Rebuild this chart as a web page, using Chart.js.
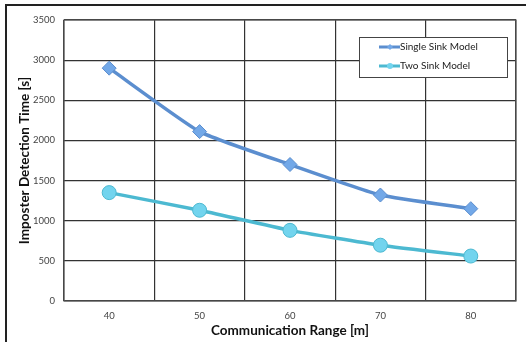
<!DOCTYPE html>
<html><head><meta charset="utf-8">
<script src="https://cdn.jsdelivr.net/npm/chart.js@4/dist/chart.umd.min.js"></script>
<style>html,body{margin:0;padding:0;background:#fff}#wrap{width:526px;height:342px;position:relative}</style>
</head><body><div id="wrap"><canvas id="c" width="526" height="342"></canvas></div>
<script>
const categories = ['40', '50', '60', '70', '80'];
const singleSink = [2900, 2110, 1700, 1320, 1150];
const twoSink = [1350, 1130, 880, 695, 560];
const yTicks = [0, 500, 1000, 1500, 2000, 2500, 3000, 3500];
const seriesNames = ['Single Sink Model', 'Two Sink Model'];
const xTitle = 'Communication Range [m]';
const yTitle = 'Imposter Detection Time [s]';
const FONT = 'Lato, "Open Sans", sans-serif';

const frame = {
  id: 'frame',
  beforeDraw(chart) {
    const ctx = chart.ctx;
    ctx.save();
    ctx.fillStyle = '#fff';
    ctx.fillRect(0, 0, chart.width, chart.height);
    ctx.strokeStyle = '#222';
    ctx.lineWidth = 2;
    ctx.beginPath();
    ctx.moveTo(6, chart.height + 5);
    ctx.lineTo(6, 5);
    ctx.lineTo(chart.width + 5, 5);
    ctx.stroke();
    ctx.restore();
  },
  afterDatasetsDraw(chart) {
    const ctx = chart.ctx;
    const a = chart.chartArea;
    ctx.save();
    ctx.strokeStyle = '#555';
    ctx.lineWidth = 1.2;
    ctx.strokeRect(a.left, a.top, a.right - a.left, a.bottom - a.top);
    // axis titles
    ctx.fillStyle = '#111';
    ctx.font = 'bold 13.5px ' + FONT;
    ctx.textAlign = 'center';
    ctx.textBaseline = 'middle';
    ctx.fillText(xTitle, (a.left + a.right) / 2, 331);
    ctx.save();
    ctx.translate(25, (a.top + a.bottom) / 2);
    ctx.rotate(-Math.PI / 2);
    ctx.fillText(yTitle, 0, 0);
    ctx.restore();
    // legend
    const lx = 359, ly = 37, lw = 148, lh = 40;
    ctx.fillStyle = '#fff';
    ctx.fillRect(lx, ly, lw, lh);
    ctx.strokeStyle = '#444';
    ctx.lineWidth = 1;
    ctx.strokeRect(lx + 0.5, ly + 0.5, lw, lh);
    chart.data.datasets.forEach((ds, i) => {
      const y = ly + 10 + i * 19;
      ctx.strokeStyle = ds.borderColor;
      ctx.lineWidth = 3;
      ctx.beginPath();
      ctx.moveTo(379, y);
      ctx.lineTo(400, y);
      ctx.stroke();
      ctx.fillStyle = ds.pointBackgroundColor;
      ctx.beginPath();
      if (ds.pointStyle === 'rectRot') {
        ctx.moveTo(390, y - 3); ctx.lineTo(393, y); ctx.lineTo(390, y + 3); ctx.lineTo(387, y);
      } else {
        ctx.arc(390, y, 3, 0, Math.PI * 2);
      }
      ctx.fill();
      ctx.fillStyle = '#222';
      ctx.font = '10px ' + FONT;
      ctx.textBaseline = 'middle';
      ctx.textAlign = 'left';
      ctx.fillText(ds.label, 400, y);
    });
    ctx.restore();
  }
};

new Chart(document.getElementById('c'), {
  type: 'line',
  data: {
    labels: categories,
    datasets: [
      { label: seriesNames[0], data: singleSink, borderColor: '#5b8ecf', backgroundColor: '#6fa5e6',
        pointBackgroundColor: '#72a8e8', pointBorderColor: '#5b8ecf', pointBorderWidth: 1,
        pointStyle: 'rectRot', pointRadius: 7, borderWidth: 3.5, tension: 0.15 },
      { label: seriesNames[1], data: twoSink, borderColor: '#4cb9d1', backgroundColor: '#6fd3ec',
        pointBackgroundColor: '#72d4ee', pointBorderColor: '#4cb9d1', pointBorderWidth: 1,
        pointStyle: 'circle', pointRadius: 7, borderWidth: 3.5, tension: 0.15 }
    ]
  },
  options: {
    responsive: false,
    animation: false,
    layout: { padding: { left: 0, right: 10, top: 20, bottom: 0 } },
    plugins: { legend: { display: false }, tooltip: { enabled: false } },
    scales: {
      x: {
        type: 'category',
        offset: true,
        grid: { offset: true, color: '#333', lineWidth: 1.2, drawTicks: false },
        border: { display: false },
        ticks: { color: '#444', font: { family: FONT, size: 9.5 }, padding: 9 },
        afterFit(s) { s.height = 41; }
      },
      y: {
        min: 0, max: 3500,
        afterBuildTicks(s) { s.ticks = yTicks.map(v => ({ value: v })); },
        grid: { color: '#333', lineWidth: 1.2, drawTicks: false },
        border: { display: false },
        ticks: { color: '#444', font: { family: FONT, size: 9.5 }, padding: 9,
                 callback: v => String(v) },
        afterFit(s) { s.width = 64; }
      }
    }
  },
  plugins: [frame]
});
</script></body></html>
